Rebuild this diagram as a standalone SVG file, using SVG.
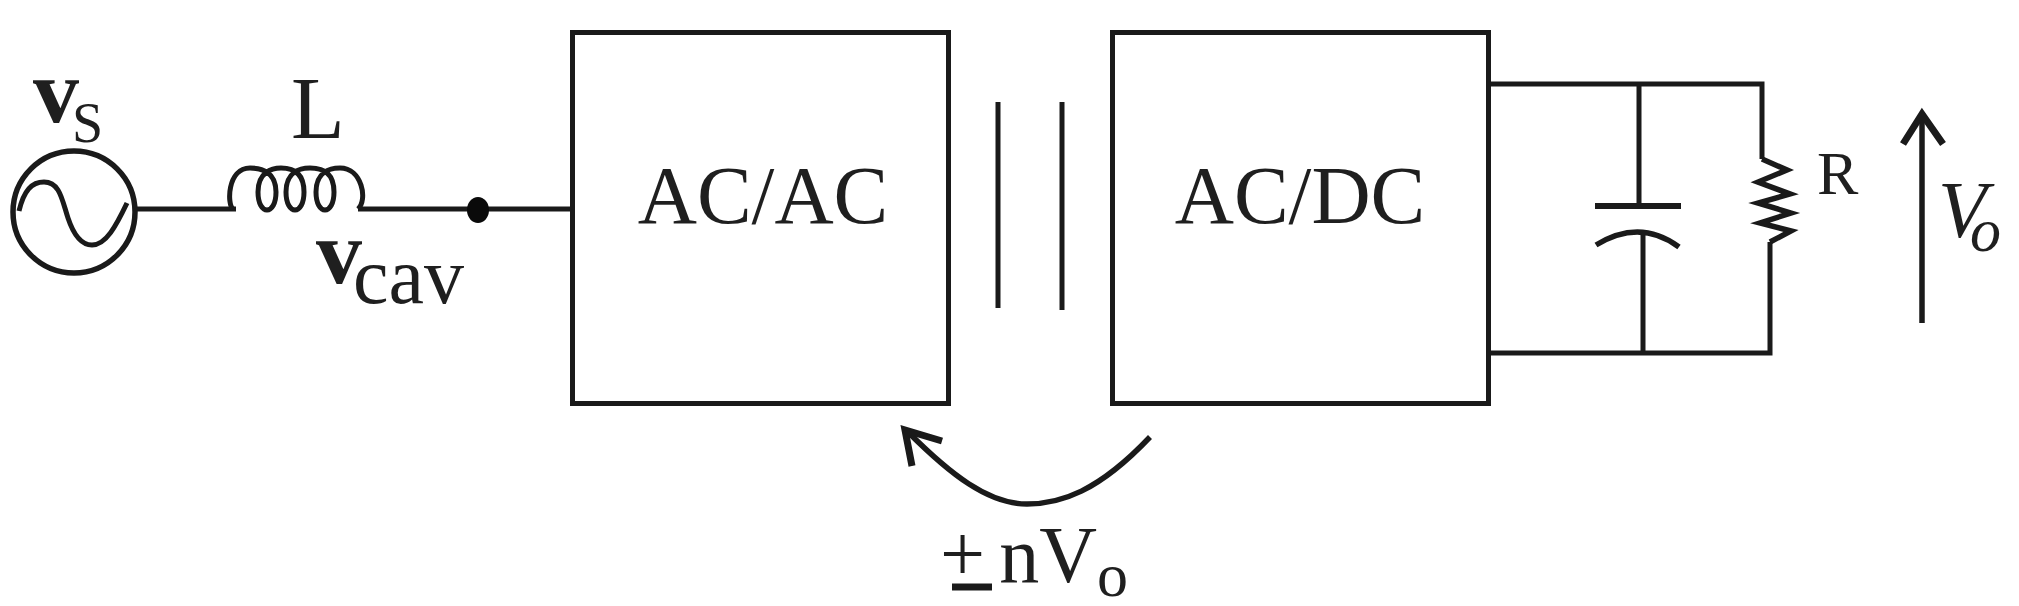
<svg xmlns="http://www.w3.org/2000/svg" width="2019" height="606" viewBox="0 0 2019 606">
<style>
.w{fill:none;stroke:#1a1a1a;stroke-width:5}
.t{font-family:"Liberation Serif",serif;fill:#1f1f1f}
.b{font-weight:bold}
.n{font-weight:normal}
</style>
<rect width="2019" height="606" fill="#fff"/>
<g id="connectors">
<path class="w" d="M134 209H236M358 209H572"/>
<path class="w" d="M1488 84H1762V159"/>
<path class="w" d="M1488 353H1770V242"/>
<path class="w" d="M1639 84V206M1643 232V353"/>
</g>
<g id="source">
<circle class="w" cx="74" cy="212" r="61" style="stroke-width:5.500"/>
<path class="w" d="M19 211C24 190 32 182 44 182C60 182 62 200 68 218C74 236 82 245 92 245C106 245 116 226 127 203"/>
<text class="t b" x="33" y="122" font-size="92">v<tspan class="n" font-size="56" dx="-7" dy="20">S</tspan></text>
</g>
<g id="inductor">
<path class="w" d="M233 209C227 205 227 168 250 168C262 168 276 172 276 192C276 216 258 216 258 192C258 172 272 168 281 168C292 168 304 172 304 192C304 216 286 216 286 192C286 172 300 168 310 168C322 168 334 172 334 192C334 216 316 216 316 192C316 172 330 168 340 168C362 168 368 200 358 209"/>
<text class="t" x="291" y="138" font-size="88">L</text>
<text class="t b" x="316" y="283" font-size="92">v<tspan class="n" font-size="80" dx="-9" dy="20">cav</tspan></text>
</g>
<g id="junction"><ellipse cx="478" cy="210" rx="11" ry="13" fill="#0a0a0a"/></g>
<g id="acac">
<rect class="w" x="572.500" y="32.500" width="376" height="371"/>
<text class="t" x="763" y="223" font-size="82" text-anchor="middle">AC/AC</text>
</g>
<g id="transformer">
<path class="w" d="M998 102V308M1062 102V310"/>
</g>
<g id="acdc">
<rect class="w" x="1112.500" y="32.500" width="376" height="371"/>
<text class="t" x="1300" y="223" font-size="82" text-anchor="middle">AC/DC</text>
</g>
<g id="capacitor">
<path class="w" style="stroke-width:6" d="M1595 206H1681"/>
<path class="w" style="stroke-width:5.500" d="M1596 245Q1640 218 1679 247"/>
</g>
<g id="resistor">
<path class="w" style="stroke-width:5.500" d="M1762 159L1787 170L1758 182L1790 194L1758 203L1791 213L1760 223L1791 231L1770 242"/>
<text class="t" x="1817" y="194" font-size="62">R</text>
</g>
<g id="vo">
<path class="w" style="stroke-width:5.500" d="M1922 323V114"/>
<path class="w" style="stroke-width:7" d="M1903 144L1922 114L1943 144"/>
<text class="t" x="1938" y="237" font-size="80" font-style="italic">V<tspan font-size="62" dx="-17" dy="14">o</tspan></text>
</g>
<g id="feedback">
<path class="w" style="stroke-width:5.500" d="M1150 437C1098 492 1060 504 1027 504C988 504 950 474 908 432"/>
<path class="w" style="stroke-width:7" d="M912 466L905 430L942 441"/>
<path class="w" style="stroke-width:7" d="M952 587H992"/>
<text class="t" x="940" y="581" font-size="80">+<tspan dx="14" dy="1">nV</tspan><tspan font-size="62" dy="14">o</tspan></text>
</g>
</svg>
